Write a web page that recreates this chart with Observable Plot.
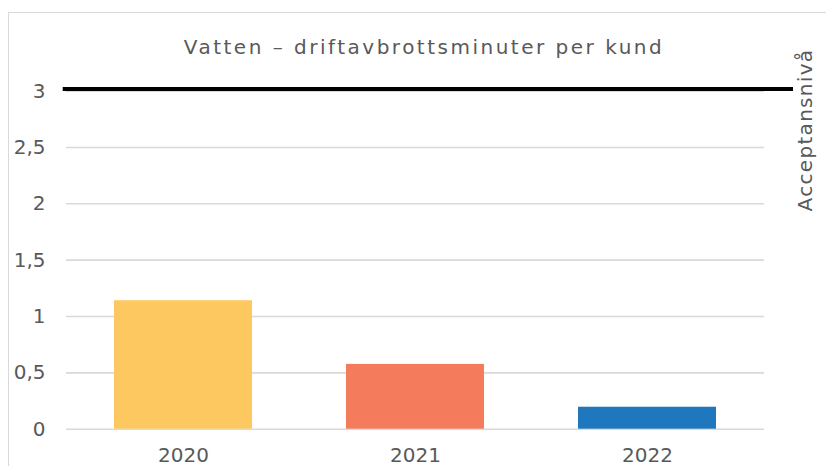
<!DOCTYPE html>
<html>
<head>
<meta charset="utf-8">
<script src="https://cdn.jsdelivr.net/npm/d3@7"></script>
<script src="https://cdn.jsdelivr.net/npm/@observablehq/plot@0.6"></script>
<style>
  html, body { margin: 0; padding: 0; background: #fff; }
  #wrap { position: relative; width: 826px; height: 466px; overflow: hidden; font-family: "DejaVu Sans", sans-serif; color: #595959; }
  #border { position: absolute; left: 8px; top: 12px; width: 900px; height: 600px; border: 1px solid #d9d9d9; box-sizing: border-box; }
  #title { position: absolute; left: 0; width: 848px; top: 35px; text-align: center; font-size: 20px; letter-spacing: 2.5px; line-height: 24px; white-space: nowrap; }
  #chart, #overlay { position: absolute; left: 0; top: 60px; }
  #side { position: absolute; left: 805px; top: 130px; transform: translate(-50%, -50%) rotate(-90deg); font-size: 20px; letter-spacing: 1.3px; white-space: nowrap; }
</style>
</head>
<body>
<div id="wrap">
  <div id="border"></div>
  <div id="title"></div>
  <div id="chart"></div>
  <div id="overlay"></div>
  <div id="side"></div>
</div>
<script>
const titleText = "Vatten – driftavbrottsminuter per kund";
const sideLabel = "Acceptansnivå";
const years = ["2020", "2021", "2022"];
const values = [1.14, 0.575, 0.195];
const colors = ["#FEC860", "#F47C5C", "#1F77BE"];
const acceptance = [3];
const yTicks = [0, 0.5, 1, 1.5, 2, 2.5, 3];

document.getElementById("title").textContent = titleText;
document.getElementById("side").textContent = sideLabel;

const data = years.map((y, i) => ({year: y, value: values[i], color: colors[i]}));
const fmt = d => String(d).replace(".", ",");

const common = {
  width: 826,
  height: 406,
  marginTop: 30.6,
  marginBottom: 37.3,
  style: {fontFamily: "DejaVu Sans, sans-serif", fontSize: "20px", color: "#595959", background: "transparent", overflow: "visible"},
  y: {domain: [0, 3], label: null, axis: null}
};

const chart = Plot.plot({
  ...common,
  marginLeft: 66,
  marginRight: 62,
  x: {domain: years, paddingInner: 0.407, paddingOuter: 0.2035, label: null},
  marks: [
    Plot.ruleY(yTicks, {stroke: "#d9d9d9", strokeWidth: 1.6}),
    Plot.barY(data, {x: "year", y: "value", fill: "color"}),
    Plot.axisY({ticks: yTicks, tickFormat: fmt, tickSize: 0, tickPadding: 21, fill: "#595959", fontSize: 20, label: null}),
    Plot.axisX({tickSize: 0, tickPadding: 19, fill: "#595959", fontSize: 20, label: null, style: {letterSpacing: "2.5px"}})
  ]
});
document.getElementById("chart").appendChild(chart);

// acceptance level line: extends beyond the plot frame, up to the side label
const overlay = Plot.plot({
  ...common,
  marginLeft: 62.7,
  marginRight: 33,
  x: {axis: null},
  marks: [
    Plot.ruleY(acceptance, {stroke: "#000", strokeWidth: 4, dy: -2})
  ]
});
document.getElementById("overlay").appendChild(overlay);
</script>
</body>
</html>
